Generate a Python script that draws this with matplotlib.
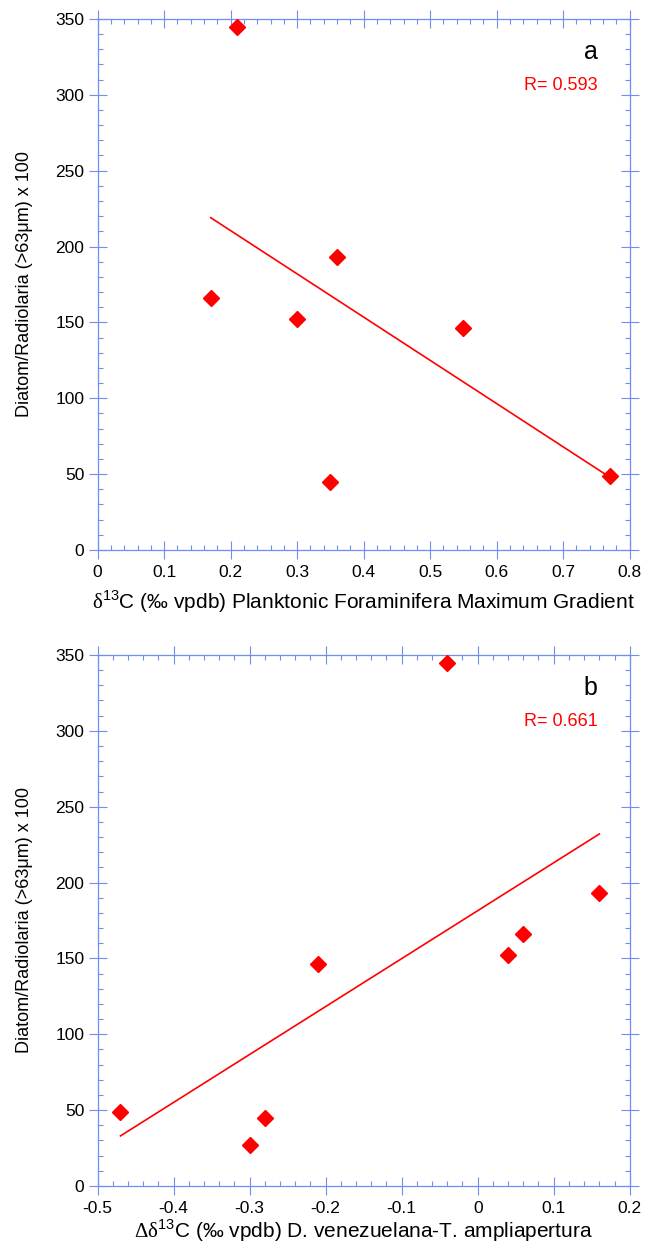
import numpy as np
import matplotlib as mpl
mpl.use('Agg')
import matplotlib.pyplot as plt
from matplotlib.ticker import MultipleLocator, FuncFormatter

mpl.rcParams.update({
    "font.family": ["Liberation Sans", "DejaVu Sans"],
    "mathtext.fontset": "custom",
    "mathtext.rm": "Liberation Serif",
    "mathtext.sf": "Liberation Sans",
    "font.size": 12,
})

# panel a: d13C maximum gradient vs diatom/radiolaria
grad_x = [0.21, 0.17, 0.30, 0.36, 0.35, 0.55, 0.77]
grad_y = [345, 166, 152, 193, 45, 146, 49]
grad_fit_x = [0.17, 0.77]
grad_fit_y = [219, 48]
grad_r = "R= 0.593"

# panel b: delta d13C D. venezuelana - T. ampliapertura
diff_x = [-0.04, -0.47, -0.30, -0.28, -0.21, 0.04, 0.06, 0.16]
diff_y = [345, 49, 27, 45, 146, 152, 166, 193]
diff_fit_x = [-0.47, 0.16]
diff_fit_y = [33, 232]
diff_r = "R= 0.661"

ylab = "Diatom/Radiolaria (>63\u03bcm) x 100"
axcol = "#6f8ef0"

fig = plt.figure(figsize=(6.52, 12.55), dpi=100)
ax1 = fig.add_axes([0.1498, 0.5618, 0.816, 0.4231])
ax2 = fig.add_axes([0.1498, 0.0550, 0.816, 0.4231])


def style(ax, xlim, label, tag, rtxt, xl_y):
    ax.set_xlim(*xlim)
    ax.set_ylim(0, 350)
    ax.xaxis.set_major_locator(MultipleLocator(0.1))
    ax.xaxis.set_minor_locator(MultipleLocator(0.02))
    ax.yaxis.set_major_locator(MultipleLocator(50))
    ax.yaxis.set_minor_locator(MultipleLocator(10))
    ax.xaxis.set_major_formatter(FuncFormatter(lambda v, p: "%g" % round(v, 2)))
    for s in ax.spines.values():
        s.set_color(axcol)
        s.set_linewidth(0.9)
    ax.tick_params(which='major', direction='inout', length=13, width=0.8,
                   color=axcol, top=True, right=True, labelsize=12.5, pad=3)
    ax.tick_params(which='minor', direction='in', length=3.6, width=0.8,
                   color=axcol, top=True, right=True)
    ax.tick_params(axis='x', which='major', pad=4)
    ax.set_xlabel(label, fontsize=15)
    ax.xaxis.set_label_coords(0.5, xl_y)
    ax.set_ylabel(ylab, fontsize=13)
    ax.yaxis.set_label_coords(-0.1216, 0.5)
    ax.text(0.94, 0.938, tag, transform=ax.transAxes, ha='right', va='center',
            fontsize=18)
    ax.text(0.94, 0.875, rtxt, transform=ax.transAxes, ha='right', va='center',
            fontsize=13, color='red')


ax1.plot(grad_fit_x, grad_fit_y, color='red', lw=1.2, zorder=2)
ax1.plot(grad_x, grad_y, 'D', color='red', markersize=8, zorder=3, clip_on=False)
style(ax1, (0, 0.8),
      r"$\mathrm{\delta}^{\mathsf{13}}$C (‰ vpdb) Planktonic Foraminifera Maximum Gradient",
      "a", grad_r, -0.0716)

ax2.plot(diff_fit_x, diff_fit_y, color='red', lw=1.2, zorder=2)
ax2.plot(diff_x, diff_y, 'D', color='red', markersize=8, zorder=3, clip_on=False)
style(ax2, (-0.5, 0.2),
      r"$\mathrm{\Delta\delta}^{\mathsf{13}}$C (‰ vpdb) D. venezuelana-T. ampliapertura",
      "b", diff_r, -0.060)

fig.savefig("out.png", dpi=100)
